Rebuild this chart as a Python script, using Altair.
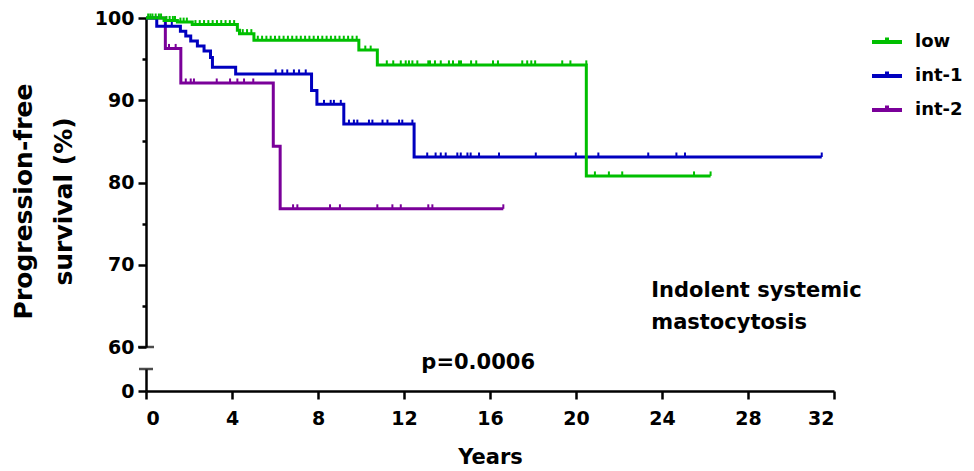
import altair as alt
import pandas as pd

groups = ["low", "int-1", "int-2"]
colors = ["#00bf00", "#0000bf", "#7a0099"]

# Kaplan-Meier steps (years, % progression-free)
low_t = [0, 0.84, 1.46, 2.15, 4.25, 4.35, 5.02, 9.9, 10.76, 20.48, 26.26]
low_s = [100, 99.7, 99.5, 99.2, 98.5, 98.1, 97.3, 96.1, 94.3, 80.8, 80.8]
int1_t = [0, 0.5, 1.6, 1.85, 2.08, 2.39, 2.7, 3.0, 3.09, 4.17, 7.7, 7.95, 9.2, 12.47, 31.43]
int1_s = [100, 99.0, 98.4, 97.8, 97.2, 96.6, 96.0, 95.2, 94.0, 93.2, 91.2, 89.5, 87.1, 83.1, 83.1]
int2_t = [0, 0.9, 1.62, 5.92, 6.24, 16.62]
int2_s = [100, 96.3, 92.1, 84.4, 76.8, 76.8]

# censored observations (years)
low_cens = [0.1, 0.2, 0.3, 0.45, 0.6, 0.7, 0.95, 1.1, 1.25, 1.35, 1.6, 1.75, 1.9,
            2.3, 2.5, 2.7, 2.9, 3.1, 3.3, 3.5, 3.7, 3.9, 4.1, 4.5, 4.7, 4.9,
            5.2, 5.4, 5.6, 5.8, 6.0, 6.2, 6.4, 6.6, 6.8, 7.0, 7.2, 7.4, 7.6, 7.8,
            8.0, 8.2, 8.4, 8.6, 8.8, 9.0, 9.2, 9.4, 9.6, 9.8, 10.2, 10.45,
            11.2, 11.5, 11.85, 12.08, 12.23, 12.39, 12.62, 13.13, 13.21, 13.44,
            13.71, 14.09, 14.28, 14.56, 14.65, 15.12, 15.36, 16.14, 16.37, 17.5,
            17.73, 17.92, 18.1, 19.36, 19.74, 20.48, 20.88, 21.53, 22.15, 25.49, 26.26]
int1_cens = [0.9, 1.2, 6.03, 6.34, 6.57, 6.88, 7.12, 7.43, 8.28, 8.59, 8.74, 9.06,
             9.44, 9.67, 9.83, 10.37, 10.53, 11.0, 11.23, 11.77, 11.92, 12.39,
             13.08, 13.47, 13.71, 13.94, 14.48, 14.64, 14.95, 15.1, 15.49, 16.42,
             18.13, 19.99, 21.04, 23.36, 24.67, 25.07, 31.43]
int2_cens = [1.07, 1.38, 1.85, 2.08, 2.23, 3.29, 3.91, 4.25, 4.56, 4.99, 6.84, 7.04,
             8.56, 9.02, 10.76, 11.46, 11.85, 13.13, 13.32, 16.62]

x_ticks = [0, 4, 8, 12, 16, 20, 24, 28, 32]
y_ticks = [60, 65, 70, 75, 80, 85, 90, 95, 100]

notes = ["p=0.0006", "Indolent systemic", "mastocytosis"]
note_x = [15.45, 23.5, 23.5]
note_y = [58.1, 66.8, 62.9]
note_align = ["center", "left", "left"]

series = [("low", low_t, low_s, low_cens),
          ("int-1", int1_t, int1_s, int1_cens),
          ("int-2", int2_t, int2_s, int2_cens)]

curve_rows, cens_rows = [], []
for g, ts, ss, cs in series:
    for t, s in zip(ts, ss):
        curve_rows.append({"group": g, "t": t, "s": s})
    for c in cs:
        lvl = ss[0]
        for t, s in zip(ts, ss):
            if t < c:
                lvl = s
        cens_rows.append({"group": g, "t": c, "s": lvl})
curves = pd.DataFrame(curve_rows)
cens = pd.DataFrame(cens_rows)
notes_df = pd.DataFrame({"text": notes, "t": note_x, "s": note_y, "align": note_align})

FONT = "DejaVu Sans"
x_scale = alt.Scale(domain=[0, 32], nice=False, zero=False)
y_top_scale = alt.Scale(domain=[60, 100], nice=False, zero=False)

color = alt.Color(
    "group:N",
    scale=alt.Scale(domain=groups, range=colors),
    legend=alt.Legend(
        title=None, orient="none", legendX=724, legendY=7, padding=0,
        symbolType="M-1,0H1M0,0V-0.3", symbolSize=900, symbolStrokeWidth=4,
        labelFont=FONT, labelFontWeight="bold", labelFontSize=18, labelColor="black",
        labelOffset=11, rowPadding=8,
    ),
)

x_top = alt.X("t:Q", scale=x_scale, axis=None)
y_top = alt.Y(
    "s:Q", scale=y_top_scale,
    axis=alt.Axis(
        values=y_ticks,
        labelExpr="datum.value % 10 == 0 ? datum.label : ''",
        tickSize={"condition": {"test": "datum.value % 10 == 0", "value": 8}, "value": 4},
        labelPadding=4,
        title=["Progression-free", "survival (%)"],
        titleFont=FONT, titleFontSize=25, titleFontWeight="bold", titleColor="black",
        titleLineHeight=40, titlePadding=18, titleY=183,
        labelFont=FONT, labelFontSize=19, labelFontWeight="bold", labelColor="black",
        domainColor="black", domainWidth=2.5, tickColor="black", tickWidth=2.5,
        grid=False,
    ),
)

layers = []
for g in reversed(groups):
    layers.append(
        alt.Chart(curves).transform_filter(alt.datum.group == g)
        .mark_line(interpolate="step-after", strokeWidth=3)
        .encode(x=x_top, y=y_top, color=color)
    )
    layers.append(
        alt.Chart(cens).transform_filter(alt.datum.group == g)
        .mark_point(shape="M0,0V-1", size=81, filled=False, strokeWidth=2, opacity=1)
        .encode(x=x_top, y=y_top, color=color)
    )

cap_top = alt.Chart(pd.DataFrame({"t": [0], "s": [60]})).mark_tick(
    orient="horizontal", size=16, thickness=2.5, color="black"
).encode(x=x_top, y=y_top)

note_layers = []
for i in range(len(notes)):
    note_layers.append(
        alt.Chart(notes_df.iloc[[i]]).mark_text(
            font=FONT, fontSize=21, fontWeight="bold", color="black",
            align=note_align[i], baseline="middle",
        ).encode(x=x_top, y=y_top, text="text:N")
    )

top = alt.layer(*layers, cap_top, *note_layers).properties(width=688, height=329)

bottom = alt.Chart(pd.DataFrame({"t": [0], "s": [1]})).mark_tick(
    orient="horizontal", size=14, thickness=2.5, color="black"
).encode(
    x=alt.X("t:Q", scale=x_scale, axis=alt.Axis(
        values=x_ticks, tickSize=8, labelPadding=10, title="Years",
        titleFont=FONT, titleFontSize=21, titleFontWeight="bold", titleColor="black",
        titlePadding=18,
        labelFont=FONT, labelFontSize=19, labelFontWeight="bold", labelColor="black",
        domainColor="black", domainWidth=2.5, tickColor="black", tickWidth=2.5, grid=False,
    )),
    y=alt.Y("s:Q", scale=alt.Scale(domain=[0, 1], nice=False), axis=alt.Axis(
        values=[0], tickSize=8, labelPadding=4, title=None,
        labelFont=FONT, labelFontSize=19, labelFontWeight="bold", labelColor="black",
        domainColor="black", domainWidth=2.5, tickColor="black", tickWidth=2.5, grid=False,
    )),
).properties(width=688, height=22)

chart = alt.vconcat(top, bottom, spacing=22, bounds="flush").properties(
    padding={"left": 3, "top": 1, "right": 0, "bottom": 0}
).configure_view(stroke=None)

chart.save("out.html", embed_options={"renderer": "svg", "actions": False})
